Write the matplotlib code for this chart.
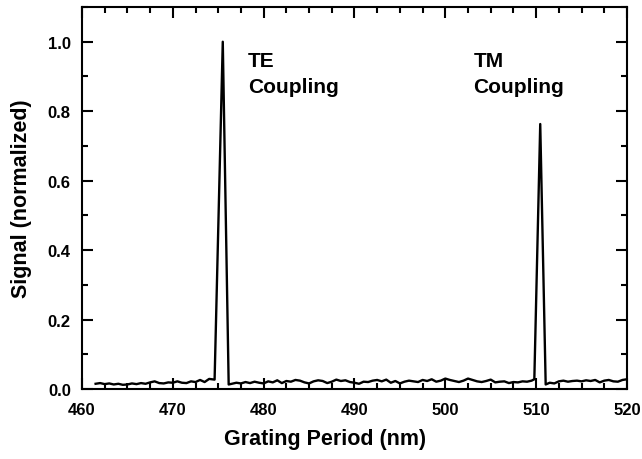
import numpy as np
import matplotlib
matplotlib.use("Agg")
import matplotlib.pyplot as plt
from matplotlib.ticker import MultipleLocator, FormatStrFormatter

plt.rcParams['font.family'] = ['Liberation Sans', 'DejaVu Sans']
plt.rcParams['font.weight'] = 'bold'

# Grating period scan (nm) and normalized detector signal
period = [
    461.5, 462.0, 462.5, 463.0, 463.5, 464.0, 464.5, 465.0, 465.5, 466.0,
    466.5, 467.0, 467.5, 468.0, 468.5, 469.0, 469.5, 470.0, 470.5, 471.0,
    471.5, 472.0, 472.5, 473.0, 473.5, 474.0, 474.6,
    475.5,
    476.15, 476.5, 477.0, 477.5, 478.0, 478.5, 479.0, 479.5, 480.0, 480.5,
    481.0, 481.5, 482.0, 482.5, 483.0, 483.5, 484.0, 484.5, 485.0, 485.5,
    486.0, 486.5, 487.0, 487.5, 488.0, 488.5, 489.0, 489.5, 490.0, 490.5,
    491.0, 491.5, 492.0, 492.5, 493.0, 493.5, 494.0, 494.5, 495.0, 495.5,
    496.0, 496.5, 497.0, 497.5, 498.0, 498.5, 499.0, 499.5, 500.0, 500.5,
    501.0, 501.5, 502.0, 502.5, 503.0, 503.5, 504.0, 504.5, 505.0, 505.5,
    506.0, 506.5, 507.0, 507.5, 508.0, 508.5, 509.0, 509.5, 509.8,
    510.45,
    511.05, 511.5, 512.0, 512.5, 513.0, 513.5, 514.0, 514.5, 515.0, 515.5,
    516.0, 516.5, 517.0, 517.5, 518.0, 518.5, 519.0, 519.5, 520.0,
]
signal = [
    0.015, 0.017, 0.014, 0.016, 0.013, 0.015, 0.012, 0.013, 0.016, 0.014,
    0.017, 0.015, 0.019, 0.022, 0.017, 0.016, 0.019, 0.018, 0.022, 0.018,
    0.017, 0.022, 0.020, 0.026, 0.020, 0.029, 0.027,
    1.000,
    0.013, 0.015, 0.018, 0.016, 0.020, 0.017, 0.021, 0.018, 0.016, 0.022,
    0.019, 0.025, 0.017, 0.023, 0.021, 0.026, 0.024, 0.019, 0.016, 0.022,
    0.025, 0.023, 0.017, 0.021, 0.027, 0.023, 0.025, 0.020, 0.018, 0.015,
    0.021, 0.020, 0.024, 0.026, 0.022, 0.027, 0.018, 0.023, 0.016, 0.021,
    0.024, 0.022, 0.020, 0.026, 0.023, 0.028, 0.021, 0.024, 0.030, 0.026,
    0.023, 0.020, 0.024, 0.030, 0.026, 0.022, 0.020, 0.023, 0.027, 0.019,
    0.021, 0.022, 0.017, 0.020, 0.019, 0.022, 0.021, 0.024, 0.028,
    0.763,
    0.013, 0.018, 0.016, 0.022, 0.024, 0.021, 0.023, 0.024, 0.022, 0.025,
    0.023, 0.026, 0.019, 0.024, 0.026, 0.022, 0.021, 0.026, 0.028,
]

peak_labels = ["TE\nCoupling", "TM\nCoupling"]
label_pos = [478.3, 503.1]

fig = plt.figure(figsize=(6.42, 4.60), dpi=100)
ax = fig.add_axes([0.1277, 0.1522, 0.8489, 0.8304])

ax.plot(period, signal, color='black', lw=1.7)

ax.set_xlim(460, 520)
ax.set_ylim(0, 1.1)
ax.xaxis.set_major_locator(MultipleLocator(10))
ax.xaxis.set_minor_locator(MultipleLocator(2.5))
ax.yaxis.set_major_locator(MultipleLocator(0.2))
ax.yaxis.set_minor_locator(MultipleLocator(0.1))
ax.yaxis.set_major_formatter(FormatStrFormatter('%.1f'))

ax.tick_params(which='both', direction='in', top=True, right=True,
               width=1.5, labelsize=12)
ax.tick_params(which='major', length=8, pad=8)
ax.tick_params(axis='x', which='major', pad=9.5)
ax.tick_params(which='minor', length=4.5)
for lbl in ax.get_xticklabels() + ax.get_yticklabels():
    lbl.set_fontweight('bold')
for s in ax.spines.values():
    s.set_linewidth(1.5)

ax.set_xlabel("Grating Period (nm)", fontsize=15.5, fontweight='bold')
ax.set_ylabel("Signal (normalized)", fontsize=15.5, fontweight='bold')
ax.xaxis.set_label_coords(0.446, -0.103)
ax.yaxis.set_label_coords(-0.092, 0.5)

for txt, xp in zip(peak_labels, label_pos):
    ax.text(xp, 0.972, txt, fontsize=15, fontweight='bold', va='top', ha='left',
            linespacing=1.45)

fig.savefig("out.png", dpi=100)
